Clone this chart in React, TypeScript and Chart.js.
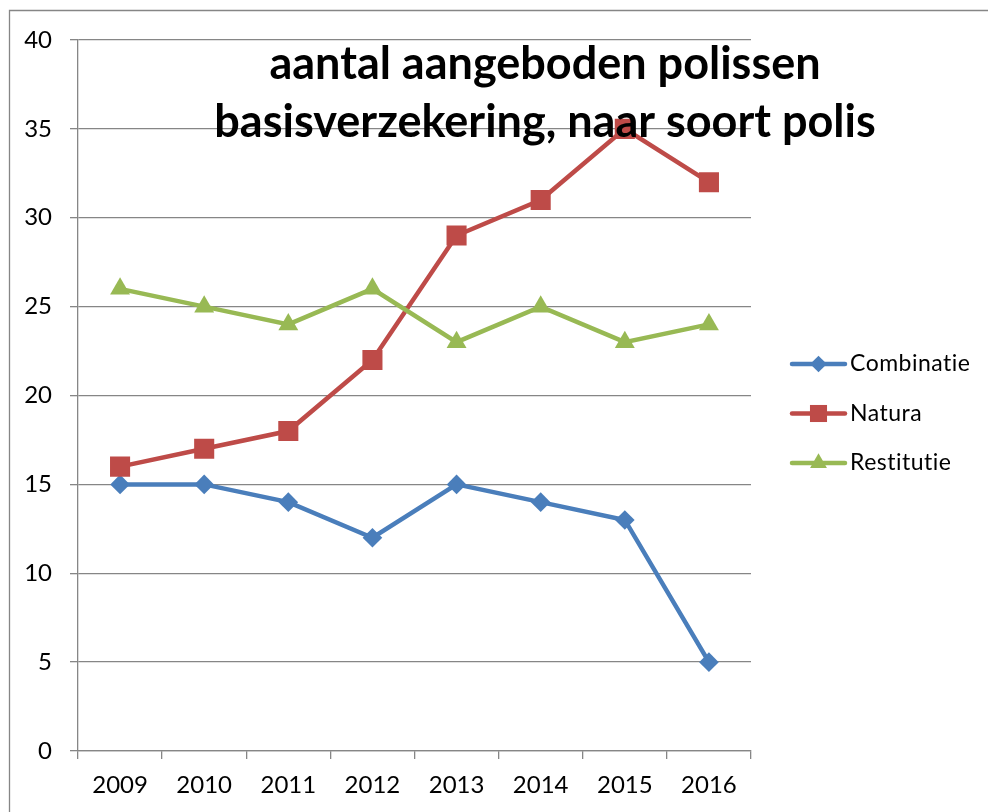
import React, { useEffect, useRef } from "react";
import { Chart, registerables } from "chart.js";

Chart.register(...registerables);

const years = ["2009", "2010", "2011", "2012", "2013", "2014", "2015", "2016"];
const combinatie = [15, 15, 14, 12, 15, 14, 13, 5];
const natura = [16, 17, 18, 22, 29, 31, 35, 32];
const restitutie = [26, 25, 24, 26, 23, 25, 23, 24];
const seriesNames = ["Combinatie", "Natura", "Restitutie"];
const titleLines = ["aantal aangeboden polissen", "basisverzekering, naar soort polis"];

const FONT = "Lato, 'Open Sans', sans-serif";
const GRID = "#868686";
const COLORS = ["#4A7EBB", "#BE4B48", "#98B954"];
const STYLES = ["rectRot", "rect", "triangle"];
const RADII = [9.8, 14.2, 11.5];

function drawMarker(ctx: CanvasRenderingContext2D, style: string, r: number, x: number, y: number) {
  ctx.beginPath();
  if (style === "rectRot") {
    ctx.moveTo(x - r, y);
    ctx.lineTo(x, y - r);
    ctx.lineTo(x + r, y);
    ctx.lineTo(x, y + r);
  } else if (style === "rect") {
    const s = r * Math.SQRT1_2;
    ctx.rect(x - s, y - s, 2 * s, 2 * s);
  } else {
    const h = Math.sqrt(3) / 2;
    ctx.moveTo(x, y - r);
    ctx.lineTo(x + r * h, y + r / 2);
    ctx.lineTo(x - r * h, y + r / 2);
  }
  ctx.closePath();
  ctx.fill();
}

const decor = {
  id: "decor",
  beforeDraw(chart: any) {
    const ctx = chart.ctx as CanvasRenderingContext2D;
    ctx.save();
    ctx.fillStyle = "#ffffff";
    ctx.fillRect(0, 0, chart.width, chart.height);
    ctx.strokeStyle = GRID;
    ctx.lineWidth = 1.3;
    ctx.beginPath();
    ctx.moveTo(9.5, chart.height);
    ctx.lineTo(9.5, 10.5);
    ctx.lineTo(chart.width, 10.5);
    ctx.stroke();
    ctx.restore();
  },
  afterDraw(chart: any) {
    const ctx = chart.ctx as CanvasRenderingContext2D;
    ctx.save();
    // title
    ctx.fillStyle = "#000000";
    ctx.font = `bold 45px ${FONT}`;
    ctx.textAlign = "center";
    ctx.textBaseline = "alphabetic";
    titleLines.forEach((t, i) => ctx.fillText(t, 545, 79 + i * 58));
    // legend
    chart.data.datasets.forEach((ds: any, i: number) => {
      const y = 364 + i * 49.5;
      ctx.strokeStyle = ds.borderColor;
      ctx.lineWidth = 4.5;
      ctx.lineCap = "round";
      ctx.beginPath();
      ctx.moveTo(792, y);
      ctx.lineTo(845, y);
      ctx.stroke();
      ctx.fillStyle = ds.borderColor;
      drawMarker(ctx, ds.pointStyle, ds.pointRadius * 0.85, 818.5, y);
      ctx.fillStyle = "#000000";
      ctx.font = `23px ${FONT}`;
      (ctx as any).letterSpacing = "0.5px";
      ctx.textAlign = "left";
      ctx.textBaseline = "middle";
      ctx.fillText(ds.label, 850, y);
      (ctx as any).letterSpacing = "0px";
    });
    ctx.restore();
  },
};

export default function App() {
  const ref = useRef<HTMLCanvasElement | null>(null);
  useEffect(() => {
    if (!ref.current) return;
    const data = [combinatie, natura, restitutie];
    const chart = new Chart(ref.current, {
      type: "line",
      data: {
        labels: years,
        datasets: data.map((d, i) => ({
          label: seriesNames[i],
          data: d,
          borderColor: COLORS[i],
          backgroundColor: COLORS[i],
          pointBackgroundColor: COLORS[i],
          pointBorderWidth: 0,
          pointStyle: STYLES[i] as any,
          pointRadius: RADII[i],
          borderWidth: 4.5,
          tension: 0,
          order: 3 - i,
        })),
      },
      options: {
        responsive: false,
        animation: false,
        events: [],
        layout: { padding: { left: 8, right: 237, top: 40, bottom: 0 } },
        plugins: { legend: { display: false }, title: { display: false }, tooltip: { enabled: false } },
        scales: {
          x: {
            type: "category",
            offset: true,
            grid: { offset: true, drawOnChartArea: false, drawTicks: true, tickLength: 8, color: GRID, lineWidth: 1.3 },
            border: { color: GRID, width: 1.3 },
            ticks: { autoSkip: false, maxRotation: 0, color: "#000000", padding: 12, font: { family: FONT, size: 24 } },
            afterFit: (s: any) => { s.height = 61; },
          },
          y: {
            min: 0,
            max: 40,
            grid: { color: GRID, lineWidth: 1.3, tickLength: 8 },
            border: { color: GRID, width: 1.3 },
            ticks: { stepSize: 5, color: "#000000", padding: 18, font: { family: FONT, size: 24 } },
            afterFit: (s: any) => { s.width = 70; },
          },
        },
      },
      plugins: [decor],
    });
    return () => chart.destroy();
  }, []);
  return (
    <div style={{ position: "fixed", left: 0, top: 0, width: 988, height: 812, overflow: "hidden", background: "#fff" }}>
      <canvas ref={ref} width={988} height={812} style={{ display: "block", width: 988, height: 812 }} />
    </div>
  );
}
